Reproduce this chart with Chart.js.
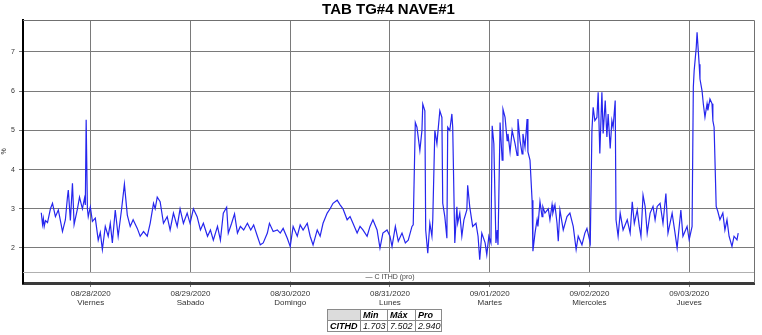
<!DOCTYPE html>
<html><head><meta charset="utf-8">
<script src="https://cdn.jsdelivr.net/npm/chart.js@4/dist/chart.umd.min.js"></script>
<style>
html,body{margin:0;padding:0;background:#fff;}
#wrap{position:relative;width:762px;height:335px;overflow:hidden;}
canvas{position:absolute;left:0;top:0;}
#stats{position:absolute;left:327px;top:309px;border-collapse:collapse;table-layout:fixed;width:114px;font-family:"Liberation Sans",Arial,sans-serif;font-size:9px;font-style:italic;color:#111;}
#stats td{border:1px solid #8a8a8a;padding:0 0 0 2px;height:10px;line-height:10px;white-space:nowrap;overflow:hidden;}
#stats td.h{font-weight:bold;color:#000;}
#stats td.corner{background:#dcdcdc;}
</style></head><body>
<div id="wrap"><canvas id="c" width="762" height="335"></canvas><table id="stats"><colgroup><col style="width:33px"><col style="width:27px"><col style="width:28px"><col style="width:26px"></colgroup></table></div>
<script>
const TITLE = 'TAB TG#4 NAVE#1';
const SERIES_NAME = 'CITHD';
const LEGEND_TEXT = '\u2014 C ITHD (pro)';
const Y_UNIT = '%';
const dateLabels = ['08/28/2020','08/29/2020','08/30/2020','08/31/2020','09/01/2020','09/02/2020','09/03/2020'];
const dayLabels = ['Viernes','Sabado','Domingo','Lunes','Martes','Miercoles','Jueves'];
const yTicks = [2,3,4,5,6,7];
const statNames = ['Min','M\u00e1x','Pro'];
const statValues = ['1.703','7.502','2.940'];
// hours since 08/28/2020 00:00
const hours = [
-11.9,-11.6,-11.4,-11.2,-10.9,-10.4,-9.7,-9.2,-8.5,-7.8,
-7.3,-6.8,-6.1,-5.6,-5.4,-4.9,-4.4,-4.0,-3.2,-2.7,
-2.0,-1.5,-1.3,-1.1,-0.8,-0.6,-0.1,0.4,1.1,1.8,
2.3,2.8,3.5,4.2,4.7,5.2,5.9,6.6,7.4,8.1,
8.8,9.5,10.2,11.2,11.9,12.7,13.6,14.3,15.1,15.5,
16.0,16.7,17.5,18.4,19.1,19.9,20.8,21.5,22.3,23.2,
23.9,24.7,25.6,26.4,27.1,28.1,28.8,29.5,30.5,31.2,
31.9,32.7,33.1,33.9,34.6,35.3,36.0,36.8,37.7,38.5,
39.2,40.1,40.8,41.5,42.5,43.0,43.9,44.9,45.6,46.3,
47.3,48.0,48.7,49.7,50.4,51.1,52.1,52.8,53.5,54.5,
55.2,55.9,56.9,57.6,58.3,59.3,60.0,60.7,61.7,62.4,
63.1,64.1,64.8,65.5,66.5,67.2,67.9,68.9,69.6,70.3,
71.3,72.0,72.5,73.3,74.0,74.9,75.7,76.4,77.3,77.6,
78.1,78.5,78.8,79.2,79.7,79.9,80.4,80.6,81.1,81.6,
82.1,82.3,82.8,83.3,83.5,84.0,84.5,84.7,85.2,85.7,
85.9,86.4,86.9,87.1,87.6,88.1,88.3,88.8,89.3,89.8,
90.5,90.7,91.2,91.9,92.7,93.2,93.6,94.1,94.9,95.3,
95.8,96.3,96.6,97.0,97.5,97.8,98.0,98.5,99.0,99.2,
99.7,100.2,100.4,100.9,101.4,102.1,102.6,102.8,103.3,103.8,
104.0,104.5,105.0,105.2,105.7,106.2,106.4,106.9,107.4,107.6,
108.1,108.6,108.8,109.3,110.1,110.5,111.0,111.2,111.7,112.2,
112.5,112.9,113.7,114.6,115.3,116.1,116.8,117.3,118.2,118.9,
119.4,120.2,120.6,120.9,121.3,121.8,122.1,122.5,123.0,123.3,
123.8,124.2,124.5,125.0,125.4,125.7,126.2,126.4,126.9,127.4,
128.1,129.1,129.8,130.3,130.8,131.5,132.0,132.4,132.9,133.4,
133.9,134.6,135.3,135.8,136.3,137.0,137.7,138.4,138.9,139.9,
140.6,141.1,142.0,142.5,143.5,144.0,144.7,145.0,145.2,145.7,
145.9,146.4,146.6,147.1,147.4,147.8,148.3,148.5,149.0,149.5,
149.7,150.0,150.5,150.9,151.4,152.1,152.6,153.1,153.6,154.3,
154.8,155.5,155.8
];
const cithd = [
2.90,2.60,2.75,2.55,2.70,2.65,3.00,3.14,2.80,2.97,
2.70,2.42,2.72,3.30,3.48,2.70,3.65,2.60,3.00,3.30,
3.00,3.27,3.10,5.27,3.00,2.80,3.05,2.68,2.76,2.20,
2.40,1.96,2.55,2.30,2.63,2.13,2.97,2.30,2.97,3.63,
2.84,2.55,2.72,2.50,2.30,2.42,2.30,2.63,3.14,3.00,
3.30,3.18,2.63,2.80,2.46,2.89,2.55,3.00,2.63,2.89,
2.63,3.00,2.80,2.46,2.63,2.30,2.46,2.20,2.55,2.20,
2.89,3.04,2.38,2.63,2.87,2.38,2.55,2.46,2.63,2.46,
2.59,2.30,2.08,2.13,2.38,2.63,2.42,2.46,2.38,2.50,
2.25,2.04,2.55,2.30,2.59,2.46,2.63,2.30,2.08,2.46,
2.30,2.63,2.89,3.00,3.14,3.22,3.10,3.00,2.72,2.80,
2.63,2.38,2.55,2.46,2.30,2.55,2.72,2.46,2.00,2.38,
2.46,2.30,2.04,2.55,2.17,2.38,2.13,2.20,2.55,2.59,
5.20,5.08,4.83,4.49,5.00,5.67,5.50,2.46,1.87,2.63,
2.30,2.72,5.00,4.66,4.91,5.50,5.33,3.14,2.80,2.25,
5.08,5.00,5.42,5.08,2.13,3.05,2.63,2.89,2.30,2.72,
2.97,3.60,3.05,2.55,2.63,2.30,1.70,2.38,2.13,1.83,
2.30,2.13,5.12,4.66,2.13,2.46,2.08,5.20,4.24,5.54,
5.33,4.74,4.91,4.45,5.00,4.66,4.36,5.29,4.74,4.40,
4.91,4.57,5.29,4.45,4.24,3.22,1.92,2.38,2.72,2.55,
3.18,2.80,3.05,2.89,3.00,2.72,3.10,2.89,3.10,2.63,
2.17,2.97,2.46,2.80,2.89,2.55,1.96,2.30,2.08,2.38,
2.50,2.13,5.00,5.59,5.25,5.33,5.97,4.41,5.97,4.92,
5.76,4.83,5.42,4.54,5.25,5.08,5.76,2.72,2.30,2.89,
2.46,2.72,2.38,3.18,2.63,2.97,2.55,2.30,3.35,3.06,
2.38,2.89,3.06,2.72,3.06,3.14,2.63,3.39,2.38,2.89,
2.38,2.00,2.97,2.30,2.55,2.21,2.55,6.10,6.52,7.11,
7.50,6.69,6.31,6.01,5.68,5.34,5.68,5.51,5.80,5.68,
5.25,5.08,3.06,2.93,2.72,2.89,2.46,2.72,2.30,2.04,
2.30,2.21,2.38
];

// stats table
(function(){
  const t = document.getElementById('stats');
  const r1 = t.insertRow(), r2 = t.insertRow();
  const c0 = r1.insertCell(); c0.className='corner';
  statNames.forEach(n=>{const c=r1.insertCell(); c.textContent=n; c.className='h';});
  const d0 = r2.insertCell(); d0.textContent = SERIES_NAME; d0.className='h';
  statValues.forEach(v=>{const c=r2.insertCell(); c.textContent=v;});
})();

const FONT = '"Liberation Sans", Arial, sans-serif';
const points = hours.map((h,i)=>({x:h, y:cithd[i]}));
const dayTicks = dateLabels.map((d,i)=>i*24);

const framePlugin = {
  id:'frame',
  afterDatasetsDraw(chart){
    const {ctx, chartArea:ca} = chart;
    const stripTop = 272;
    ctx.save();
    ctx.fillStyle = '#fff';
    ctx.fillRect(ca.left+1, stripTop, ca.right-ca.left-1, ca.bottom-1.5-stripTop);
    ctx.strokeStyle = '#b0b0b0'; ctx.lineWidth = 1;
    ctx.beginPath(); ctx.moveTo(ca.left, stripTop+0.5); ctx.lineTo(ca.right, stripTop+0.5); ctx.stroke();
    ctx.strokeStyle = '#707070';
    ctx.beginPath(); ctx.moveTo(ca.left, ca.top+0.5); ctx.lineTo(ca.right+0.5, ca.top+0.5); ctx.lineTo(ca.right+0.5, ca.bottom); ctx.stroke();
    ctx.fillStyle = '#444'; ctx.font = '7px '+FONT; ctx.textAlign='center'; ctx.textBaseline='middle';
    ctx.fillText(LEGEND_TEXT, 390, stripTop+5.5);
    // title centred over the plot area
    ctx.fillStyle = '#000'; ctx.font = 'bold 15px '+FONT; ctx.textAlign='center'; ctx.textBaseline='middle';
    ctx.fillText(TITLE, (ca.left+ca.right)/2, 9.5);
    ctx.restore();
  }
};

new Chart(document.getElementById('c').getContext('2d'), {
  type:'line',
  data:{datasets:[{label:SERIES_NAME, data:points, borderColor:'#2626ee', borderWidth:1.2, pointRadius:0, tension:0, fill:false}]},
  options:{
    responsive:false, animation:false, devicePixelRatio:1,
    layout:{padding:{left:0,right:8,top:20,bottom:0}},
    plugins:{ legend:{display:false}, tooltip:{enabled:false}, title:{display:false} },
    scales:{
      x:{type:'linear', min:-16.3, max:159.6,
        afterBuildTicks:s=>{s.ticks = dayTicks.map(v=>({value:v}));},
        ticks:{autoSkip:false, maxRotation:0, padding:2, color:'#333', font:{family:FONT,size:8,lineHeight:1.15},
          callback:(v)=>{const i=Math.round(v/24); return [dateLabels[i], dayLabels[i]];}},
        grid:{color:'#7a7a7a', lineWidth:1, tickLength:4, drawTicks:true},
        border:{color:'#3a3a3a', width:3},
        afterFit:s=>{s.height=52;}
      },
      y:{min:1.107, max:7.816,
        afterBuildTicks:s=>{s.ticks = yTicks.map(v=>({value:v}));},
        ticks:{padding:4, color:'#333', font:{family:FONT,size:7}},
        grid:{color:'#7a7a7a', lineWidth:1, tickLength:4},
        border:{color:'#000', width:2},
        title:{display:true, text:Y_UNIT, color:'#333', font:{family:FONT,size:7}, padding:0},
        afterFit:s=>{s.width=23;}
      }
    }
  },
  plugins:[framePlugin]
});
</script>
</body></html>
